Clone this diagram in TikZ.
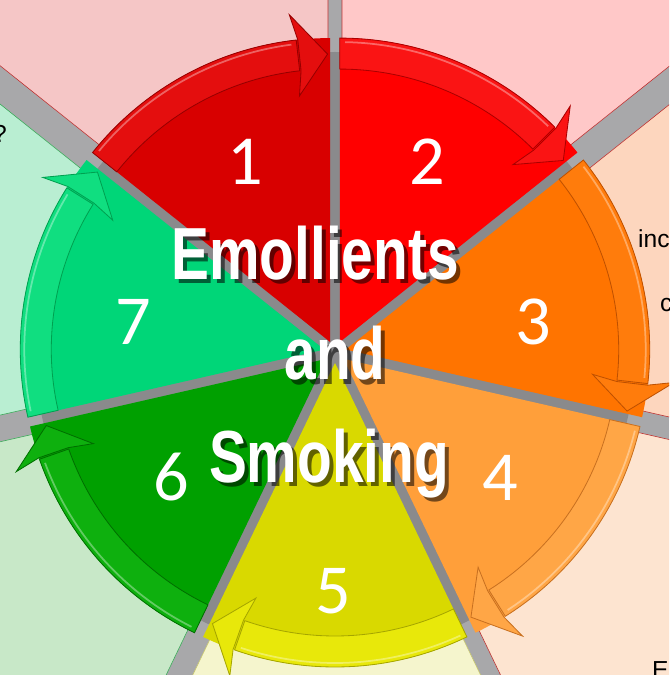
\documentclass[tikz,border=0pt]{standalone}
\usepackage{fontspec}
\usepackage{xcolor}
\usepackage{tikz}
\newfontfamily\headfont[FakeStretch=0.77]{Liberation Sans}
\newfontfamily\numfont{Carlito}
\newfontfamily\notefont{Liberation Sans}
\definecolor{emogray}{RGB}{168, 168, 170}
\definecolor{emogap}{RGB}{138, 138, 140}
% wheel colours
\definecolor{emored}{RGB}{216, 0, 0}
\definecolor{emoredband}{RGB}{228, 14, 14}
\definecolor{emoredline}{RGB}{150, 0, 0}
\definecolor{emobright}{RGB}{255, 0, 0}
\definecolor{emobrightband}{RGB}{250, 20, 20}
\definecolor{emobrightline}{RGB}{170, 0, 0}
\definecolor{emoorange}{RGB}{255, 116, 0}
\definecolor{emoorangeband}{RGB}{255, 124, 12}
\definecolor{emoorangeline}{RGB}{190, 80, 0}
\definecolor{emoamber}{RGB}{255, 159, 58}
\definecolor{emoamberband}{RGB}{255, 166, 70}
\definecolor{emoamberline}{RGB}{200, 112, 32}
\definecolor{emoyellow}{RGB}{217, 217, 0}
\definecolor{emoyellowband}{RGB}{232, 232, 10}
\definecolor{emoyellowline}{RGB}{165, 165, 0}
\definecolor{emogreen}{RGB}{0, 160, 0}
\definecolor{emogreenband}{RGB}{14, 176, 14}
\definecolor{emogreenline}{RGB}{0, 110, 0}
\definecolor{emomint}{RGB}{0, 214, 120}
\definecolor{emomintband}{RGB}{16, 222, 128}
\definecolor{emomintline}{RGB}{0, 160, 80}
% backdrop colours
\definecolor{backone}{RGB}{245, 198, 198}
\definecolor{backtwo}{RGB}{255, 200, 200}
\definecolor{backthree}{RGB}{253, 214, 190}
\definecolor{backfour}{RGB}{253, 228, 208}
\definecolor{backfive}{RGB}{245, 245, 205}
\definecolor{backsix}{RGB}{200, 232, 200}
\definecolor{backseven}{RGB}{185, 238, 210}
\definecolor{backred}{RGB}{190, 50, 50}
\definecolor{backyellow}{RGB}{200, 200, 110}
\definecolor{backgreen}{RGB}{60, 170, 90}
\usetikzlibrary{calc}

% #1 start angle, #2 half gap at start, #3 half gap at end, #4 fill, #5 border
\newcommand{\backpart}[5]{%
    \fill[#4, draw=#5, line width=0.5pt]
        ($(#1:80)+(#1-90:#2)$) -- ($(#1:900)+(#1-90:#2)$)
        -- ($(#1-51.429:900)+(#1+38.571:#3)$) -- ($(#1-51.429:80)+(#1+38.571:#3)$) -- cycle;}

% #1 start angle, #2 body, #3 band, #4 band edge
\newcommand{\wheelpart}[4]{%
    \begin{scope}[shift={(#1-25.714:11)}]
        \fill[#2] (0,0) -- (#1:304) arc[start angle=#1, end angle=#1-51.429, radius=304] -- cycle;
        \fill[#3, draw=#4, line width=0.7pt] (#1:304) arc[start angle=#1, end angle=#1-45, radius=304]
            -- (#1-45:273) arc[start angle=#1-45, end angle=#1, radius=273] -- cycle;
        \draw[white, opacity=0.35, line width=1.5pt] (#1-1:300) arc[start angle=#1-1, end angle=#1-44, radius=300];
        \fill[#3, draw=#4, line width=0.7pt] (#1-44.3:330) -- (#1-50.9:288) -- (#1-44.3:248)
            -- (#1-45.3:273) -- (#1-45.3:304) -- cycle;
    \end{scope}}

\begin{document}
\begin{tikzpicture}[x=0.03cm, y=0.03cm]
    \tikzstyle{segnum} = [text=white, font=\numfont\fontsize{60}{60}\selectfont, anchor=base, inner sep=0pt]
    \tikzstyle{headtext} = [text=white, font=\headfont\bfseries\fontsize{63}{63}\selectfont, anchor=base, inner sep=0pt]
    \tikzstyle{headshadow} = [headtext, text=black, text opacity=0.55]
    \tikzstyle{sidenote} = [text=black, font=\notefont\fontsize{21}{21}\selectfont, inner sep=0pt]

    \useasboundingbox (-335,-323) rectangle (334,352);
    \clip (-335,-323) rectangle (334,352);
    \fill[emogray] (-335,-323) rectangle (334,352);

    % Backdrop
    \backpart{141.429}{15}{7}{backone}{backred}
    \backpart{90}{7}{15}{backtwo}{backred}
    \backpart{38.571}{15}{11}{backthree}{backred}
    \backpart{-12.857}{11}{9}{backfour}{backred}
    \backpart{-64.286}{9}{12}{backfive}{backyellow}
    \backpart{-115.714}{12}{13}{backsix}{backgreen}
    \backpart{-167.143}{13}{15}{backseven}{backgreen}

    % Wheel
    \fill[emogap] (0,0) circle[radius=300];
    \wheelpart{141.429}{emored}{emoredband}{emoredline}
    \wheelpart{90}{emobright}{emobrightband}{emobrightline}
    \wheelpart{38.571}{emoorange}{emoorangeband}{emoorangeline}
    \wheelpart{-12.857}{emoamber}{emoamberband}{emoamberline}
    \wheelpart{-64.286}{emoyellow}{emoyellowband}{emoyellowline}
    \wheelpart{-115.714}{emogreen}{emogreenband}{emogreenline}
    \wheelpart{-167.143}{emomint}{emomintband}{emomintline}

    % Numbers
    \node[segnum] (n1) at (-90,167) {1};
    \node[segnum] (n2) at (92,167) {2};
    \node[segnum] (n3) at (198,7) {3};
    \node[segnum] (n4) at (165,-148) {4};
    \node[segnum] (n5) at (-2,-261) {5};
    \node[segnum] (n6) at (-164,-148) {6};
    \node[segnum] (n7) at (-202,7) {7};

    % Title
    \node[headshadow] (emoS) at (-16,68) {Emollients};
    \node[headshadow] (andS) at (4,-32) {and};
    \node[headshadow] (smokS) at (-2,-134) {Smoking};
    \node[headtext] (emo) at (-20,72) {Emollients};
    \node[headtext] (and) at (0,-28) {and};
    \node[headtext] (smok) at (-6,-130) {Smoking};

    % Cut-off notes
    \node[sidenote, anchor=base east] (q) at (-328,209) {?};
    \node[sidenote, anchor=base west] (inc) at (303,104) {inc};
    \node[sidenote, anchor=base west] (c) at (325,40) {c};
    \node[sidenote, anchor=base west] (E) at (317,-326) {E};
\end{tikzpicture}
\end{document}
